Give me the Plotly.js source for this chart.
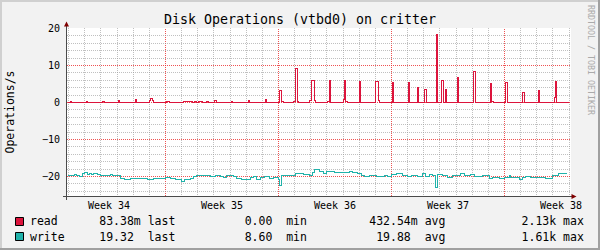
<!DOCTYPE html>
<html><head><meta charset="utf-8">
<script src="https://cdn.plot.ly/plotly-3.0.1.min.js"></script>
<style>
html,body{margin:0;padding:0;background:#f2f2f2}
#chart{width:600px;height:250px}
#chart .scatterlayer .js-line { shape-rendering: crispEdges !important; }
</style>
</head><body><div id="chart"></div>
<script>
// ---- data (time in days since Monday of week 34) ----
const chartTitle = 'Disk Operations (vtbd0) on critter';
const yTitle = 'Operations/s';
const watermark = 'RRDTOOL / TOBI OETIKER';
const weekLabels = ['Week 34', 'Week 35', 'Week 36', 'Week 37', 'Week 38'];
const weekStartDay = [0, 7, 14, 21, 28];
const timeRange = [0.89823, 32.11947];
const yRange = [-25.27027, 20.13514];
const yMajorTicks = [-20, -10, 0, 10, 20];

const seriesNames = ['read', 'write'];
const seriesColors = ['#DC143C', '#20B2AA'];

const readDay = [0.95, 1.14, 1.20, 2.12, 2.18, 3.07, 3.19, 4.11, 4.18, 5.14, 5.21, 6.03, 6.09, 6.19, 6.24,
  7.06, 7.22, 8.09, 8.70, 8.78, 8.90, 9.05, 9.28, 9.57, 9.67, 10.04, 10.18, 11.11, 11.17, 12.13, 12.20,
  13.21, 13.27, 14.09, 14.19, 14.28, 14.95, 15.07, 15.16, 15.26, 15.95, 16.03, 16.20, 16.31,
  17.05, 17.13, 17.19, 18.04, 18.10, 18.18, 18.25, 19.03, 19.11, 20.01, 20.18, 20.25, 21.08, 21.14,
  22.07, 22.13, 22.60, 22.67, 23.04, 23.18, 23.76, 23.86, 24.10, 24.19, 24.33, 24.41, 25.09, 25.15,
  26.08, 26.22, 27.11, 27.19, 27.30, 28.09, 28.17, 29.10, 29.25, 30.09, 30.15, 31.07, 31.13, 31.19, 31.98];
const readOps = [0, 0.4, 0, 0.4, 0, 0.4, 0, 0.6, 0, 0.9, 0, 0.6, 1.1, 0.6, 0,
  0.3, 0, 0.3, 0, 0.3, 0, 0.3, 0, 0.4, 0, 0.6, 0, 0.3, 0, 0.6, 0,
  0.9, 0, 3.3, 0.3, 0, 0.3, 9.2, 0.3, 0, 0.5, 5.9, 0.5, 0,
  0.3, 5.9, 0, 0.8, 5.9, 0.3, 0, 5.7, 0, 5.7, 0.6, 0, 5.4, 0,
  5.4, 0, 4.1, 0, 3.5, 0, 18.3, 0, 5.9, 0, 3.6, 0, 6.8, 0,
  8.4, 0, 5.2, 0.2, 0, 5.4, 0, 2.8, 0, 3.3, 0, 1.3, 5.7, 0, 0];

const writeDay = [0.95, 1.34, 1.51, 1.65, 1.85, 2.00, 2.16, 2.27, 2.41, 2.57, 2.78, 2.99, 3.60, 3.71,
  4.22, 4.43, 4.84, 5.04, 5.45, 5.86, 6.28, 6.69, 7.00, 7.30, 7.61, 8.02, 8.17, 8.54, 8.74, 8.95,
  9.57, 9.77, 10.08, 10.39, 10.59, 10.80, 11.21, 11.42, 11.73, 12.24, 12.44, 12.65, 12.86, 13.16,
  13.47, 13.68, 13.97, 14.09, 14.21, 14.40, 14.71, 15.08, 15.53, 15.94, 16.08, 16.25, 16.56,
  16.76, 16.97, 17.48, 17.89, 18.41, 18.61, 18.92, 19.13, 19.33, 19.64, 20.05, 20.57, 20.77,
  20.98, 21.29, 21.70, 22.01, 22.21, 22.62, 22.93, 23.08, 23.34, 23.55, 23.75, 23.88, 24.17,
  24.47, 24.78, 25.30, 25.50, 25.91, 26.12, 26.63, 27.05, 27.25, 27.66, 27.97, 28.28, 28.38,
  28.90, 29.10, 29.31, 29.62, 29.92, 30.54, 30.95, 31.36, 31.88];
const writeOps = [19.64, 19.38, 19.82, 20.09, 19.11, 18.93, 19.38, 19.2, 19.55, 19.29, 19.46, 19.73, 19.46, 19.82,
  20.45, 20.71, 20.45, 20.62, 20.54, 20.71, 20.54, 20.62, 20.18, 20.45, 20.71, 21.25, 20.89, 20.54, 20.09, 19.64,
  19.82, 19.91, 19.64, 19.91, 20.27, 19.82, 20.09, 20.54, 20.71, 20.27, 20.09, 20.89, 20.36, 19.91,
  20.54, 20.36, 20.71, 22.5, 19.64, 19.82, 19.64, 19.29, 19.46, 19.82, 18.93, 18.21, 18.57,
  19.11, 18.57, 18.93, 19.02, 18.75, 18.93, 19.29, 19.64, 20.0, 19.82, 20.0, 19.64, 20.0,
  19.46, 19.29, 19.64, 20.0, 19.82, 20.0, 19.29, 20.0, 19.55, 19.82, 23.04, 19.46, 19.82,
  20.18, 19.64, 19.29, 19.82, 19.46, 20.0, 19.64, 20.54, 20.36, 20.54, 20.27, 19.82, 20.18,
  20.71, 20.27, 20.0, 20.36, 20.18, 20.45, 19.64, 19.29, 19.29];

const statLast = ['83.38m', '19.32 '];
const statMin = ['0.00 ', '8.60 '];
const statAvg = ['432.54m', '19.88 '];
const statMax = ['2.13k', '1.61k'];

// ---- geometry ----
const W = 600, H = 250, ML = 67, MR = 29, MT = 28, MB = 54;
const PW = W - ML - MR, PH = H - MT - MB;
const px2x = px => (px - ML) / PW;
const py2y = py => (H - MB - py) / PH;
const mono = 'DejaVu Sans Mono';
const majorGrid = 'rgba(235,40,40,0.8)';
const minorGrid = 'rgba(150,150,150,0.6)';
const axisColor = '#4a4a4a';
const arrowColor = '#800000';
const nb = s => s.replace(/ /g, '\u00a0');

// fine grid positions (every day / every 2 units) that are not on a major line
const dayMinor = [];
for (let d = Math.ceil(timeRange[0]); d <= timeRange[1]; d++) if (!weekStartDay.includes(d)) dayMinor.push(d);
const yMinor = [];
for (let v = Math.ceil(yRange[0] / 2) * 2; v <= yRange[1]; v += 2) if (!yMajorTicks.includes(v)) yMinor.push(v);

const traces = [
  {x: readDay, y: readOps, type: 'scatter', mode: 'lines', name: seriesNames[0], xaxis: 'x', yaxis: 'y',
   line: {shape: 'hv', color: seriesColors[0], width: 1}, hoverinfo: 'skip'},
  {x: writeDay, y: writeOps.map(v => -v), type: 'scatter', mode: 'lines', name: seriesNames[1], xaxis: 'x2', yaxis: 'y2',
   line: {shape: 'hv', color: seriesColors[1], width: 1}, hoverinfo: 'skip'}
];

const shapes = [
  // frame
  {type: 'line', xref: 'paper', yref: 'paper', x0: px2x(0), x1: px2x(600), y0: py2y(1), y1: py2y(1), line: {color: '#d0d0d0', width: 2}},
  {type: 'line', xref: 'paper', yref: 'paper', x0: px2x(1), x1: px2x(1), y0: py2y(0), y1: py2y(250), line: {color: '#d0d0d0', width: 2}},
  {type: 'line', xref: 'paper', yref: 'paper', x0: px2x(0), x1: px2x(600), y0: py2y(249), y1: py2y(249), line: {color: '#a0a0a0', width: 2}},
  {type: 'line', xref: 'paper', yref: 'paper', x0: px2x(599), x1: px2x(599), y0: py2y(0), y1: py2y(250), line: {color: '#a0a0a0', width: 2}},
  // axes
  {type: 'line', xref: 'paper', yref: 'paper', x0: px2x(63), x1: px2x(572), y0: py2y(196.5), y1: py2y(196.5), line: {color: axisColor, width: 1}},
  {type: 'line', xref: 'paper', yref: 'paper', x0: px2x(66.5), x1: px2x(66.5), y0: py2y(200), y1: py2y(26), line: {color: axisColor, width: 1}},
  {type: 'path', xref: 'paper', yref: 'paper', xsizemode: 'pixel', ysizemode: 'pixel', xanchor: px2x(571.5), yanchor: py2y(196.5),
   path: 'M 0,2.5 L 5,0 L 0,-2.5 Z', fillcolor: arrowColor, line: {width: 0}},
  {type: 'path', xref: 'paper', yref: 'paper', xsizemode: 'pixel', ysizemode: 'pixel', xanchor: px2x(66.5), yanchor: py2y(26.5),
   path: 'M -2.5,0 L 0,5 L 2.5,0 Z', fillcolor: arrowColor, line: {width: 0}},
];
// week grid lines on the time scale (drawn beneath the data)
weekStartDay.filter(d => d > timeRange[0] && d < timeRange[1]).forEach(d => {
  shapes.push({type: 'line', layer: 'below', xref: 'x', yref: 'paper', x0: d, x1: d, y0: 0, y1: 1,
    line: {color: majorGrid, width: 1, dash: '1px,1px'}});
});
// legend swatches
[217.5, 232.5].forEach((top, i) => {
  shapes.push({type: 'rect', xref: 'paper', yref: 'paper', x0: px2x(15.5), x1: px2x(23.5), y0: py2y(top + 8), y1: py2y(top),
    fillcolor: seriesColors[i], line: {color: '#000', width: 1}});
});

const annotations = [];
weekStartDay.forEach((d, i) => {
  annotations.push({text: weekLabels[i], xref: 'x', yref: 'paper', x: d + 3.5, y: py2y(205.5), xanchor: 'center', yanchor: 'middle',
    showarrow: false, borderpad: 0, borderwidth: 0, font: {family: mono, size: 10, color: '#000'}});
});
[221.5, 236.5].forEach((cy, i) => {
  const row = seriesNames[i].padEnd(10) + statLast[i].padStart(6) + ' last' + statMin[i].padStart(15) + ' min' +
    statAvg[i].padStart(16) + ' avg' + statMax[i].padStart(16) + ' max';
  annotations.push({text: nb(row), xref: 'paper', yref: 'paper', x: px2x(30), y: py2y(cy), xanchor: 'left', yanchor: 'middle',
    showarrow: false, borderpad: 0, borderwidth: 0, font: {family: mono, size: 11.5, color: '#000'}});
});
annotations.push({text: nb(watermark), xref: 'paper', yref: 'paper', x: px2x(591), y: py2y(60), xanchor: 'center', yanchor: 'middle',
  textangle: 90, showarrow: false, borderpad: 0, borderwidth: 0, font: {family: mono, size: 8.3, color: '#aaaaaa'}});

const common = {autorange: false, showline: false, zeroline: false, automargin: false, ticks: '', gridwidth: 1, griddash: '1px,1px'};

const layout = {
  width: W, height: H,
  margin: {l: ML, r: MR, t: MT, b: MB, pad: 0},
  paper_bgcolor: '#f2f2f2', plot_bgcolor: '#ffffff',
  showlegend: false,
  title: {text: chartTitle, font: {family: mono, size: 13.3, color: '#000'}, x: 0.5, xref: 'container', xanchor: 'center',
    y: 1 - 19 / H, yref: 'container', yanchor: 'middle'},
  xaxis: Object.assign({}, common, {range: timeRange, tickmode: 'array', tickvals: dayMinor,
    showticklabels: false, showgrid: true, gridcolor: minorGrid}),
  yaxis: Object.assign({}, common, {range: yRange, tickmode: 'array', tickvals: yMinor,
    showticklabels: false, showgrid: true, gridcolor: minorGrid}),
  xaxis2: Object.assign({}, common, {overlaying: 'x', anchor: 'y2', side: 'bottom', range: timeRange,
    tickmode: 'array', tickvals: weekStartDay, showticklabels: false, showgrid: false}),
  yaxis2: Object.assign({}, common, {overlaying: 'y', anchor: 'x2', side: 'left', range: yRange,
    tickmode: 'array', tickvals: yMajorTicks, showgrid: true, gridcolor: majorGrid, ticklabelstandoff: 6,
    tickfont: {family: mono, size: 10, color: '#000'},
    title: {text: yTitle, font: {family: mono, size: 11.5, color: '#000'}, standoff: 24}}),
  shapes: shapes,
  annotations: annotations
};

Plotly.newPlot('chart', traces, layout, {staticPlot: true, displayModeBar: false});
</script>
</body></html>
